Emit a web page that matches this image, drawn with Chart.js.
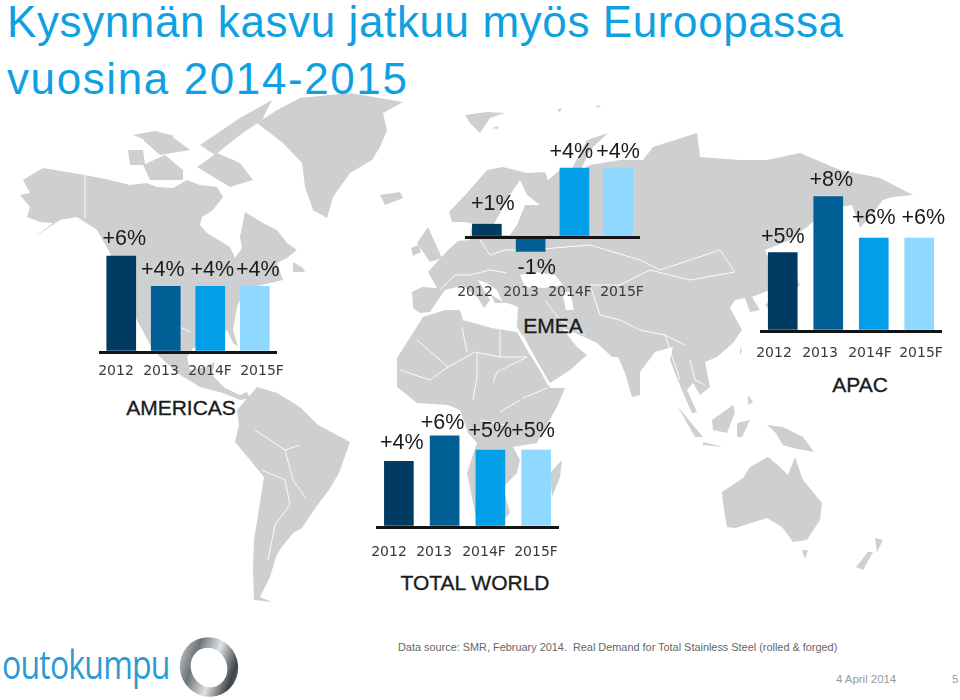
<!DOCTYPE html>
<html lang="fi">
<head>
<meta charset="UTF-8" />
<title>Kysynnän kasvu</title>
<script src="https://cdn.jsdelivr.net/npm/chart.js@4"></script>
<style>
  html, body { margin: 0; padding: 0; background: #fff; }
  body { position: relative; width: 960px; height: 700px; overflow: hidden; font-family: "Liberation Sans", sans-serif; }
  #map { position: absolute; left: 0; top: 0; }
  .panel { position: absolute; }
  .txt { position: absolute; white-space: nowrap; }
  .title { left: 7px; color: #0f9fe3; font-size: 44px; line-height: 44px; }
  .region { color: #1c1c1c; font-size: 21px; line-height: 24px; transform: translateX(-50%); -webkit-text-stroke: 0.35px #1c1c1c; }
  .foot { color: #666; font-size: 10.9px; line-height: 14px; }
  .date { color: #999; font-size: 11.4px; line-height: 14px; }
  #logo { left: 2px; top: 644px; color: #2a9bd4; font-family: "Open Sans", sans-serif; font-size: 40px; line-height: 40px; letter-spacing: -1px; transform: scaleX(0.8); transform-origin: left top; }
</style>
</head>
<body>
<svg id="map" width="960" height="700"></svg>
<div class="txt title" style="top:0px;letter-spacing:0.6px">Kysynnän kasvu jatkuu myös Euroopassa</div>
<div class="txt title" style="top:57px;letter-spacing:1.6px">vuosina 2014-2015</div>
<div class="txt region" style="left:181px;top:396px">AMERICAS</div>
<div class="txt region" style="left:553px;top:314px">EMEA</div>
<div class="txt region" style="left:860px;top:373px">APAC</div>
<div class="txt region" style="left:475px;top:571px">TOTAL WORLD</div>
<div class="txt foot" style="left:398px;top:640px">Data source: SMR, February 2014.&nbsp; Real Demand for Total Stainless Steel (rolled &amp; forged)</div>
<div class="txt date" style="left:836px;top:672px">4 April 2014</div>
<div class="txt date" style="left:952px;top:672px">5</div>
<div class="txt" id="logo">outokumpu</div>
<svg style="position:absolute;left:176px;top:634px" width="66" height="66">
  <defs>
    <linearGradient id="ring" x1="0" y1="0" x2="1" y2="1">
      <stop offset="0" stop-color="#e8eaec" /><stop offset="0.3" stop-color="#6d7478" />
      <stop offset="0.55" stop-color="#dfe3e6" /><stop offset="0.8" stop-color="#3e4244" /><stop offset="1" stop-color="#9a9fa3" />
    </linearGradient>
  </defs>
  <ellipse cx="33" cy="33" rx="29" ry="30" fill="url(#ring)" transform="rotate(-25 33 33)" />
  <ellipse cx="33" cy="33.5" rx="18" ry="20" fill="#fff" transform="rotate(-25 33 33.5)" />
</svg>

<script>
// Data grafik
const categories = ["2012", "2013", "2014F", "2015F"];
const americasValues = [6.0, 4.1, 4.1, 4.1];
const emeaValues = [0.8, -0.9, 4.3, 4.3];
const apacValues = [4.9, 8.4, 5.8, 5.8];
const worldValues = [4.1, 5.7, 4.8, 4.8];

const barColors = ["#003b62", "#005f95", "#009fe8", "#8fd8ff"];

// Peta latar (dekorasi, bukan data)
const mapLand = [
  // Amerika Utara
  "23,180 43,168 67,172 85,175 110,180 130,185 147,183 157,187 173,188 187,180 200,185 217,187 223,197 213,210 202,217 200,225 207,233 230,247 235,258 242,248 240,237 245,212 263,223 277,230 287,243 297,250 287,258 277,263 283,280 253,287 243,293 237,307 233,330 238,347 233,343 227,330 213,343 193,348 187,357 190,370 205,367 215,362 212,375 225,388 240,395 247,392 250,398 240,400 223,393 200,387 177,373 153,350 137,320 130,303 117,270 110,253 97,230 77,217 60,220 33,238 53,223 40,222 27,217 30,207 20,195 30,193",
  // Amerika Selatan
  "237,410 257,387 277,393 300,407 318,425 350,442 339,473 329,490 316,507 302,528 293,533 281,548 276,557 270,577 260,597 272,602 254,600 253,570 254,540 264,477 235,442 239,425",
  // Greenland
  "257,123 277,110 300,98 350,93 403,102 383,113 387,130 380,147 372,160 350,173 333,197 327,218 313,210 305,187 302,163 283,143",
  // Pulau Arktik
  "128,150 143,150 145,165 130,165", "143,165 165,155 183,170 183,180 150,180", "197,167 217,153 240,163 253,180 230,187 215,178",
  "200,145 240,118 272,100 262,120 240,135 215,155", "143,140 170,135 190,150 160,155", "133,135 155,131 175,136 150,142",
  "380,195 400,192 403,198 385,205", "293,262 303,268 305,272 293,272", "465,115 487,112 505,113 490,118 480,133 470,123", "492,128 498,126 498,129",
  "557,110 562,108 560,112", "596,106 601,105 598,108", "570,172 587,140 608,133 590,150 580,172",
  // Inggris, Irlandia
  "417,243 428,227 442,258 430,262", "411,248 419,245 421,252 413,256",
  // Eurasia
  "413,308 412,292 422,287 437,288 428,272 437,262 448,250 458,241 470,240 471,228 476,232 478,225 465,222 452,222 449,212 467,193 487,170 503,167 527,173 545,172 548,180 560,170 575,175 590,165 620,160 643,160 653,147 675,140 697,133 700,157 740,160 767,160 800,153 840,170 880,178 913,195 893,197 883,200 873,213 860,228 852,205 835,208 825,215 815,220 807,227 790,240 765,250 770,262 785,270 770,290 752,297 760,310 750,312 745,298 735,300 730,308 742,330 733,343 717,357 705,362 710,387 700,395 693,383 687,390 697,412 692,413 684,395 675,373 670,360 673,347 655,352 640,372 640,395 632,397 625,373 618,357 612,357 597,343 580,335 562,328 577,347 587,355 570,370 550,383 545,375 527,343 520,332 517,327 518,307 507,303 495,303 491,295 500,300 503,303 497,290 487,283 478,280 490,300 484,308 478,298 462,285 453,288 445,290 438,300 430,312 420,313",
  // Jepang
  "785,255 800,285 770,310 765,305 790,285 783,262",
  // Afrika
  "397,358 423,317 445,310 460,310 463,320 492,328 517,332 527,350 545,378 550,388 565,388 557,407 540,437 537,443 513,447 520,460 517,473 503,487 510,513 497,527 478,527 467,473 477,443 468,433 460,410 448,405 417,403 397,387",
  "562,460 560,477 552,497 550,473",
  // Asia Tenggara, Oseania
  "678,407 703,437 695,437", "703,442 723,447 703,445", "712,420 733,405 735,412 727,433 713,430", "737,423 750,420 742,437 737,437", "748,395 753,402 748,405",
  "767,425 783,427 803,437 814,452 793,448 783,445 775,432", "740,348 742,350 740,356",
  "722,492 743,478 750,467 768,457 780,467 788,475 795,457 803,480 822,503 820,520 807,540 793,542 782,527 767,518 735,528 727,527 723,503",
  "802,550 808,550 805,559", "875,538 883,540 877,552", "868,552 873,552 863,570 856,567"
];
// Laut dan garis batas putih di atas daratan
const mapSea = [
  "495,222 510,195 520,180 527,195 540,205 525,205 517,225 510,235 490,235", "560,175 575,170 565,185",
  "520,275 535,272 555,275 563,285 545,288 525,287", "562,292 570,292 574,310 566,310"
];
const mapLines = [
  "523,335 535,360 548,385", "85,175 85,218", "166,320 190,332", "417,340 448,367 475,352 500,357 527,357", "462,327 467,352", "500,330 500,357",
  "477,353 477,377 473,400", "493,383 497,372 527,357", "523,398 547,388", "500,412 520,400", "480,420 505,425", "400,370 430,380 448,367",
  "255,430 270,440 285,450 300,445", "262,470 285,480 290,505 275,525 268,560", "285,450 293,480 305,497", "440,290 455,275 470,275 490,270 507,273",
  "480,240 490,255 505,250 530,250 590,245 640,260 660,270 720,250 735,272 690,280 650,270 620,285 590,285", "590,285 600,315 620,320 640,330 665,335 685,345",
  "545,300 560,320 585,335", "665,335 680,380", "690,360 695,380 705,385"
];

const svg = document.getElementById("map");
const NS = "http://www.w3.org/2000/svg";
const addShape = (tag, points, attrs) => {
  const el = document.createElementNS(NS, tag);
  el.setAttribute("points", points);
  Object.keys(attrs).forEach((k) => el.setAttribute(k, attrs[k]));
  svg.appendChild(el);
};
mapLand.forEach((p) => addShape("polygon", p, { fill: "#cdcfd1" }));
mapSea.forEach((p) => addShape("polygon", p, { fill: "#fff" }));
mapLines.forEach((p) => addShape("polyline", p, { fill: "none", stroke: "#fff", "stroke-width": 0.9 }));

// Plugin label nilai di atas / bawah batang
const valueLabels = {
  id: "valueLabels",
  afterDatasetsDraw(chart) {
    const { ctx } = chart;
    const meta = chart.getDatasetMeta(0);
    const { labelDx, labelGap } = chart.options.plugins.valueLabels;
    ctx.save();
    ctx.fillStyle = "#1a1a1a";
    ctx.font = "21.5px 'Liberation Sans', sans-serif";
    ctx.textAlign = "center";
    ctx.textBaseline = "middle";
    meta.data.forEach((el, i) => {
      const v = chart.data.datasets[0].data[i];
      const text = (v > 0 ? "+" : "") + Math.round(v) + "%";
      const y = v >= 0 ? el.y - labelGap[i] : el.y + labelGap[i];
      ctx.fillText(text, el.x + labelDx[i], y);
    });
    ctx.restore();
  },
};

const UNIT = 16; // piksel per 1 %-yksikkö
const Y_MAX = 11;
const SIDE = 30;

// Fungsi pembuat panel
const buatPanel = (values, p) => {
  const box = document.createElement("div");
  box.className = "panel";
  const w = p.right - p.left + SIDE * 2;
  const h = (Y_MAX - p.yMin) * UNIT + 30;
  box.style.cssText = `left:${p.left - SIDE}px;top:${p.baseline - Y_MAX * UNIT}px;width:${w}px;height:${h}px`;
  const canvas = document.createElement("canvas");
  canvas.width = w;
  canvas.height = h;
  box.appendChild(canvas);
  document.body.appendChild(box);

  new Chart(canvas, {
    type: "bar",
    data: {
      labels: categories,
      datasets: [{ data: values, backgroundColor: barColors, barThickness: 29 }],
    },
    options: {
      responsive: false,
      animation: false,
      layout: { padding: { left: SIDE, right: SIDE, top: 0, bottom: 0 } },
      plugins: {
        legend: { display: false },
        tooltip: { enabled: false },
        valueLabels: { labelDx: p.labelDx, labelGap: p.labelGap },
      },
      scales: {
        x: { display: false },
        // Sumbu kedua hanya untuk teks tahun, karena jaraknya tidak sama dengan batang
        yearAxis: {
          axis: "x",
          type: "linear",
          position: "bottom",
          offset: false,
          min: 0,
          max: p.right - p.left,
          afterBuildTicks: (s) => { s.ticks = p.tickX.map((v) => ({ value: v })); },
          afterFit: (s) => { s.height = 30; },
          grid: { display: false, offset: false },
          border: { display: false },
          ticks: {
            callback: (v, i) => categories[i],
            autoSkip: false,
            maxRotation: 0,
            padding: p.tickPad,
            color: "#3a3a3a",
            font: { family: "'DejaVu Sans', sans-serif", size: 14 },
          },
        },
        y: {
          min: p.yMin,
          max: Y_MAX,
          afterFit: (s) => { s.width = 0; },
          ticks: { display: false, stepSize: 1 },
          border: { display: false },
          grid: {
            z: 1,
            drawTicks: false,
            color: (c) => (c.tick.value === 0 ? "#141414" : "rgba(0,0,0,0)"),
            lineWidth: (c) => (c.tick.value === 0 ? 3 : 0),
          },
        },
      },
    },
    plugins: [valueLabels],
  });
};

buatPanel(americasValues, { left: 99, right: 277, baseline: 352, yMin: 0, tickX: [17, 62, 111, 163], tickPad: 3, labelDx: [3, -3, 2, 3], labelGap: [17, 16, 16, 16] });
buatPanel(emeaValues, { left: 465, right: 640, baseline: 237, yMin: -2, tickX: [10, 56, 105, 157], tickPad: 7, labelDx: [6, 6, -3, 0], labelGap: [20, 17, 16, 16] });
buatPanel(apacValues, { left: 760, right: 942, baseline: 331, yMin: 0, tickX: [14, 60, 110, 161], tickPad: 6, labelDx: [0, 3, 0, 4], labelGap: [16, 17, 20, 20] });
buatPanel(worldValues, { left: 376, right: 559, baseline: 527, yMin: 0, tickX: [13, 58, 108, 160], tickPad: 9, labelDx: [3, -2, 0, -3], labelGap: [18, 13, 19, 19] });
</script>
</body>
</html>
